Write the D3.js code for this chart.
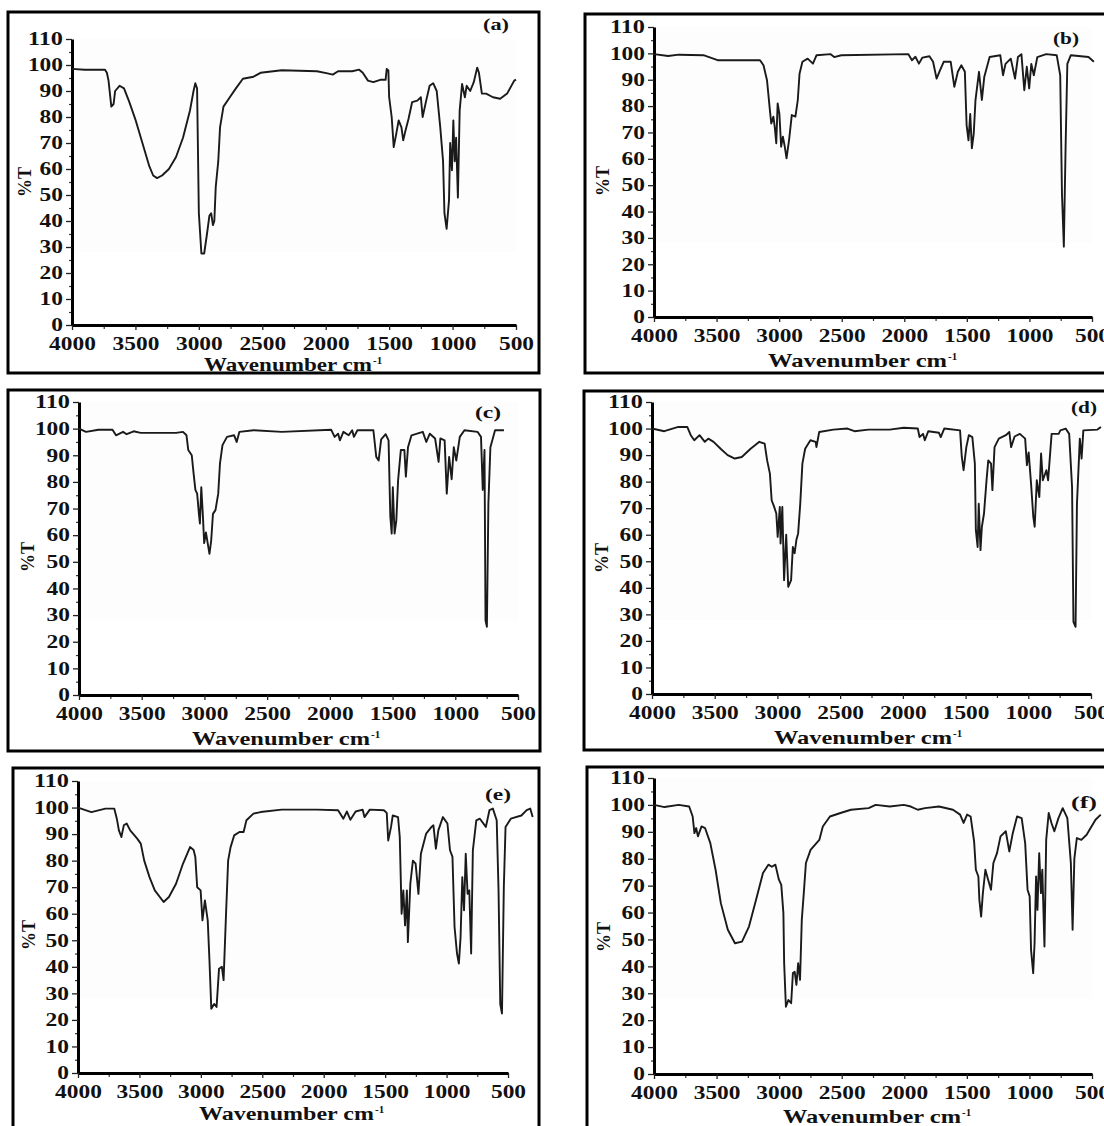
<!DOCTYPE html>
<html><head><meta charset="utf-8">
<script src="https://cdn.jsdelivr.net/npm/d3@7"></script>
<style>
html,body{margin:0;padding:0;background:#fff;overflow:hidden}
svg{display:block}
text{font-family:"Liberation Serif","Times New Roman",serif;font-weight:bold;fill:#111}
</style></head><body>
<svg id="chart" width="1104" height="1126"></svg>
<script>
// ---------- data: [wavenumber cm-1, %T] ----------
const specA = [[4000,98.5],[3900,98.2],[3740,98.2],[3725,97],[3712,94],[3690,84],[3672,85],[3660,90],[3625,92],[3590,91],[3550,86],[3500,79],[3445,70],[3390,61],[3360,57.5],[3330,56.5],[3290,57.5],[3236,60],[3180,64.6],[3125,72],[3070,82.5],[3042,90],[3028,93],[3014,91],[3000,43],[2980,27.5],[2958,27.5],[2936,35],[2917,42],[2903,43],[2889,38.4],[2878,40],[2867,53],[2847,63],[2833,76],[2806,84],[2764,87],[2708,91],[2653,94.7],[2569,95.5],[2514,97],[2347,98],[2069,97.6],[1986,96.8],[1944,96.3],[1903,97.6],[1792,97.6],[1736,98.2],[1708,97],[1667,94],[1625,93.4],[1570,94.3],[1528,94.3],[1519,98.5],[1506,97.9],[1500,87.6],[1480,80],[1464,68.4],[1444,73.5],[1425,78.7],[1403,76],[1389,71],[1375,74],[1347,79.3],[1319,85.7],[1278,86.3],[1250,87.6],[1236,80],[1208,86.3],[1181,92],[1153,93],[1125,90],[1097,76],[1075,63],[1064,43],[1047,37],[1028,48],[1019,70],[1005,59.5],[994,78.7],[983,63],[972,72],[958,49],[944,82.5],[925,92.7],[903,87.6],[889,92],[861,90],[833,93.4],[806,99],[792,97],[769,89],[736,89],[681,87.6],[625,87],[570,89],[514,94],[500,94.4]];
const specB = [[4000,99.7],[3887,99],[3802,99.5],[3605,99.3],[3492,97.4],[3153,97.4],[3125,95.5],[3097,89.8],[3074,78.5],[3063,73.4],[3046,76],[3035,72],[3023,65.9],[3012,81],[2998,77],[2984,64.6],[2970,68.4],[2955,64.6],[2941,60.2],[2921,67],[2899,76.6],[2870,76],[2851,82.3],[2837,92.3],[2814,96.8],[2772,98],[2730,96.1],[2701,99.3],[2588,99.7],[2560,98.6],[2503,99.3],[1967,99.7],[1939,97.4],[1911,98.7],[1883,96.1],[1855,98.4],[1799,98.9],[1770,96.8],[1742,90.4],[1714,93.6],[1685,96.8],[1629,96.8],[1600,87.3],[1572,93],[1544,95.5],[1516,93],[1502,72.8],[1487,67],[1473,77],[1460,64],[1445,69.6],[1431,82.3],[1403,93],[1380,82.3],[1361,91],[1318,98.6],[1233,99.3],[1211,91.7],[1191,96],[1149,98],[1115,90.4],[1092,98.6],[1064,99.7],[1041,86],[1021,94.9],[1002,86.7],[985,96],[965,91.7],[937,98.6],[866,99.7],[782,99.3],[754,91.7],[740,46.7],[725,26.7],[711,64.6],[697,96],[669,99.3],[528,98.6],[485,96.8]];
const specC = [[4000,100],[3944,98.8],[3845,99.6],[3733,99.6],[3705,97.5],[3649,98.8],[3620,97.9],[3564,99],[3508,98.4],[3227,98.4],[3171,98.8],[3143,97.5],[3129,92],[3101,90],[3086,83],[3072,77],[3058,75.6],[3044,68],[3036,64.4],[3025,78],[3013,68],[3002,57],[2988,61],[2974,57],[2960,53],[2946,58],[2932,68],[2912,69.4],[2890,75.6],[2876,87],[2856,93.8],[2820,96.9],[2763,97.5],[2743,95],[2721,98.8],[2608,99.4],[2383,98.8],[1990,99.6],[1962,96.9],[1934,98.1],[1920,95.6],[1892,98.8],[1850,97.5],[1822,99.4],[1808,96.9],[1780,99.4],[1653,99.4],[1630,89.4],[1611,88],[1591,96],[1555,97.9],[1532,95.6],[1518,67],[1507,60.6],[1498,78],[1484,60.6],[1470,65.6],[1456,80.6],[1434,92],[1406,92],[1394,82],[1377,93],[1349,97.5],[1259,98.8],[1231,95],[1203,98.1],[1161,96.3],[1133,87.5],[1119,96.3],[1085,95.6],[1068,75.6],[1049,89.4],[1029,81],[1012,93],[992,88],[964,96.9],[927,99.4],[823,98.8],[795,96.9],[781,77],[767,92],[759,28],[748,25.6],[736,72],[720,93],[683,99.4],[612,99.4]];
const specD = [[4000,100],[3902,99],[3790,100.6],[3719,100.6],[3691,97.5],[3663,95.6],[3621,97.5],[3579,95],[3551,96.2],[3509,95],[3453,92.4],[3397,90],[3340,88.7],[3284,89.3],[3214,92.4],[3144,95],[3102,94.3],[3082,88],[3060,83],[3046,73],[3026,70.5],[3009,68],[2998,59.2],[2981,70.5],[2975,56.7],[2961,70.5],[2947,42.9],[2930,60],[2914,40.4],[2891,42.9],[2877,55.4],[2863,53],[2849,58],[2835,60.5],[2818,71.7],[2801,86.8],[2779,92.4],[2737,95.6],[2695,95],[2689,93],[2667,98.7],[2554,99.6],[2442,100],[2386,99],[2274,99.6],[2105,99.6],[1993,100.3],[1881,100],[1867,96.8],[1839,98],[1825,95.6],[1797,99],[1712,98.4],[1698,96.8],[1670,100],[1544,99.3],[1530,89.3],[1516,84.3],[1494,93],[1474,97.5],[1446,96.8],[1426,86.8],[1418,61.7],[1404,55.4],[1395,71.7],[1381,54.2],[1370,63],[1353,68],[1333,80.5],[1319,88],[1297,86.8],[1286,76.8],[1269,93],[1235,96.2],[1179,97.5],[1151,98.7],[1137,93],[1109,97],[1067,98],[1025,96.2],[1011,86.2],[997,91],[978,79.3],[960,66.7],[949,63],[932,80.5],[912,74.2],[898,90.6],[884,80.5],[856,84.3],[842,80.5],[814,98],[758,98],[744,99.3],[702,100],[674,98],[651,78],[640,27.2],[623,25.3],[612,71.7],[589,96.2],[575,88.7],[561,99.3],[449,99.6],[421,100.6]];
const specE = [[4000,100],[3891,98.3],[3777,99.6],[3705,99.6],[3684,95.8],[3667,91.4],[3647,88.9],[3627,93.3],[3604,94],[3575,91.4],[3518,88.3],[3489,86.4],[3461,80],[3418,73.8],[3375,68.8],[3303,64.4],[3260,66.3],[3202,71.3],[3145,78.9],[3088,85.1],[3059,84],[3045,81.4],[3030,70],[3002,68.8],[2987,57.5],[2967,65],[2944,57.5],[2930,42.4],[2915,24.2],[2892,26],[2872,24.9],[2852,39.3],[2829,40],[2815,35],[2795,60],[2778,80],[2758,85.1],[2729,89.5],[2686,90.8],[2652,90.8],[2629,95.2],[2572,97.7],[2514,98.3],[2342,99.2],[2055,99.2],[1883,99],[1840,95.8],[1811,98.5],[1783,95.4],[1740,98.5],[1683,99.2],[1668,96.4],[1625,99.2],[1510,99],[1487,98],[1475,87.6],[1452,92.7],[1438,97],[1395,96.4],[1381,88.9],[1366,60],[1352,68.8],[1338,55.6],[1323,68.8],[1315,49.3],[1295,71.3],[1274,80],[1252,78.9],[1229,67.5],[1209,82.6],[1166,90.2],[1123,92.7],[1107,93.3],[1087,84.5],[1067,91.4],[1030,96.4],[993,94],[972,83.9],[952,81.4],[935,55],[915,45],[900,41.2],[886,51.2],[872,73.8],[858,61.3],[844,82.6],[829,67.5],[815,68.8],[800,45],[786,83.9],[758,95.2],[729,95.8],[680,92.7],[651,99],[623,99.6],[592,95.2],[577,68.8],[563,26],[549,22.4],[534,70],[520,92.7],[477,95.8],[391,97],[348,99],[319,99.6],[299,96.4]];
const specF = [[4000,100],[3916,99.2],[3803,100],[3719,99.4],[3691,95.7],[3677,89.5],[3663,91.4],[3649,88.3],[3620,92],[3592,91.4],[3550,85.8],[3508,75.9],[3466,63.5],[3410,53.6],[3353,48.6],[3297,49.2],[3241,54.8],[3185,64.7],[3129,74.7],[3086,77.8],[3058,77],[3030,77.8],[3002,72.2],[2983,70.3],[2966,59.8],[2960,41.2],[2946,25],[2926,27.5],[2904,26.3],[2890,37.5],[2876,38],[2862,33.1],[2848,41.2],[2833,35],[2819,57.3],[2805,66],[2786,78.4],[2749,83.3],[2679,87],[2651,92],[2594,95.7],[2510,97],[2426,98.2],[2285,98.8],[2229,100],[2116,99.4],[2004,100],[1948,99.4],[1892,98.2],[1835,98.8],[1723,99.4],[1611,98.2],[1554,96.4],[1526,93.3],[1498,96.4],[1470,95.7],[1442,86.4],[1428,75.9],[1408,73.4],[1400,64.7],[1386,58.5],[1372,67.2],[1352,75.9],[1330,72.2],[1307,68.5],[1288,78.4],[1259,82.1],[1231,88.3],[1189,90.2],[1161,82.7],[1133,89.5],[1099,95.7],[1062,95.1],[1034,85.8],[1015,68.5],[998,66],[987,46.1],[970,37.5],[959,48.6],[947,73.4],[936,61],[922,82.1],[908,67.2],[897,75.9],[880,47.4],[866,87],[846,97],[824,93.3],[801,90.2],[768,95.1],[734,98.8],[697,95.1],[669,78.4],[655,53.6],[641,80],[621,87.7],[585,87],[543,88.9],[472,94.5],[430,96.4]];

const panelLabels = ["(a)","(b)","(c)","(d)","(e)","(f)"];
const xTicks = [4000,3500,3000,2500,2000,1500,1000,500];
const yTicks = [0,10,20,30,40,50,60,70,80,90,100,110];
const xTitle = "Wavenumber cm";
const xTitleSup = "-1";
const yTitle = "%T";

// ---------- layout (pixels) ----------
const layout = [
  {data:specA, x0:72,  x1:516,  yT:39,  yB:325,  box:[8,12,539,373],    lab:[496,30],  tt:[204,371,178],  yl:[24,182]},
  {data:specB, x0:654, x1:1092, yT:27,  yB:317,  box:[585,14,1120,373], lab:[1066,44], tt:[768,367,189],  yl:[602,181]},
  {data:specC, x0:79,  x1:518,  yT:402, yB:695,  box:[8,390,540,751],   lab:[488,418], tt:[192,745,188],  yl:[27,557]},
  {data:specD, x0:652, x1:1091, yT:402, yB:694,  box:[584,391,1120,750],lab:[1084,413],tt:[774,744,188],  yl:[601,558]},
  {data:specE, x0:78,  x1:508,  yT:781, yB:1073, box:[13,768,539,1140], lab:[498,800], tt:[199,1120,185], yl:[28,935]},
  {data:specF, x0:654, x1:1092, yT:778, yB:1074, box:[587,767,1120,1140],lab:[1084,808],tt:[783,1123,188], yl:[603,937]}
];

const svg = d3.select("#chart");

layout.forEach((p, i) => {
  const g = svg.append("g");
  // frame
  g.append("rect")
    .attr("x", p.box[0]).attr("y", p.box[1])
    .attr("width", p.box[2]-p.box[0]).attr("height", p.box[3]-p.box[1])
    .attr("fill", "#fff").attr("stroke", "#000").attr("stroke-width", 3);

  const x = d3.scaleLinear().domain([4000, 500]).range([p.x0, p.x1]);
  const y = d3.scaleLinear().domain([0, 110]).range([p.yB, p.yT]);

  // very faint plot background
  g.append("rect").attr("x", p.x0).attr("y", y(110)).attr("width", p.x1-p.x0)
    .attr("height", y(28)-y(110)).attr("fill", "#fdfdfd");

  // minor ticks
  const yMinor = d3.range(5, 110, 10);
  g.append("g").attr("transform", `translate(${p.x0},0)`)
    .call(d3.axisLeft(y).tickValues(yMinor).tickSize(3).tickFormat(""))
    .call(s => s.select(".domain").remove())
    .selectAll("line").attr("stroke", "#333").attr("stroke-width", 1.2);
  const xMinor = d3.range(3750, 500, -500);
  g.append("g").attr("transform", `translate(0,${p.yB})`)
    .call(d3.axisBottom(x).tickValues(xMinor).tickSize(4).tickFormat(""))
    .call(s => s.select(".domain").remove())
    .selectAll("line").attr("stroke", "#333").attr("stroke-width", 1.2);

  // major axes
  const ya = g.append("g").attr("transform", `translate(${p.x0},0)`)
    .call(d3.axisLeft(y).tickValues(yTicks).tickSize(6).tickPadding(3).tickSizeOuter(0).tickFormat(d3.format("d")));
  const xa = g.append("g").attr("transform", `translate(0,${p.yB})`)
    .call(d3.axisBottom(x).tickValues(xTicks).tickSize(5).tickPadding(7).tickSizeOuter(0).tickFormat(d3.format("d")));
  [ya, xa].forEach(a => {
    a.select(".domain").attr("stroke", "#000").attr("stroke-width", 3);
    a.selectAll(".tick line").attr("stroke", "#222").attr("stroke-width", 1.3);
    a.selectAll(".tick text")
      .attr("font-size", 18).attr("fill", "#111")
      .attr("font-family", null)
      .each(function() {
        const t = d3.select(this);
        t.attr("textLength", t.text().length * 11.7).attr("lengthAdjust", "spacingAndGlyphs");
      });
  });

  // spectrum line
  const line = d3.line().x(d => x(d[0])).y(d => y(d[1]));
  g.append("path").datum(p.data)
    .attr("d", line).attr("fill", "none")
    .attr("stroke", "#1a1a1a").attr("stroke-width", 1.9).attr("stroke-linejoin", "round");

  // panel label
  g.append("text").attr("x", p.lab[0]).attr("y", p.lab[1])
    .attr("text-anchor", "middle").attr("font-size", 16)
    .attr("textLength", 26).attr("lengthAdjust", "spacingAndGlyphs")
    .text(panelLabels[i]);

  // x title
  g.append("text").attr("x", p.tt[0]).attr("y", p.tt[1])
    .attr("font-size", 19)
    .attr("textLength", p.tt[2]-10).attr("lengthAdjust", "spacingAndGlyphs")
    .text(xTitle);
  g.append("text").attr("x", p.tt[0] + p.tt[2] - 9).attr("y", p.tt[1] - 7)
    .attr("font-size", 11)
    .text(xTitleSup);

  // y title
  g.append("text")
    .attr("transform", `translate(${p.yl[0]+7},${p.yl[1]}) rotate(-90)`)
    .attr("text-anchor", "middle").attr("font-size", 19)
    .attr("textLength", 30).attr("lengthAdjust", "spacingAndGlyphs")
    .text(yTitle);
});
</script>
</body></html>
